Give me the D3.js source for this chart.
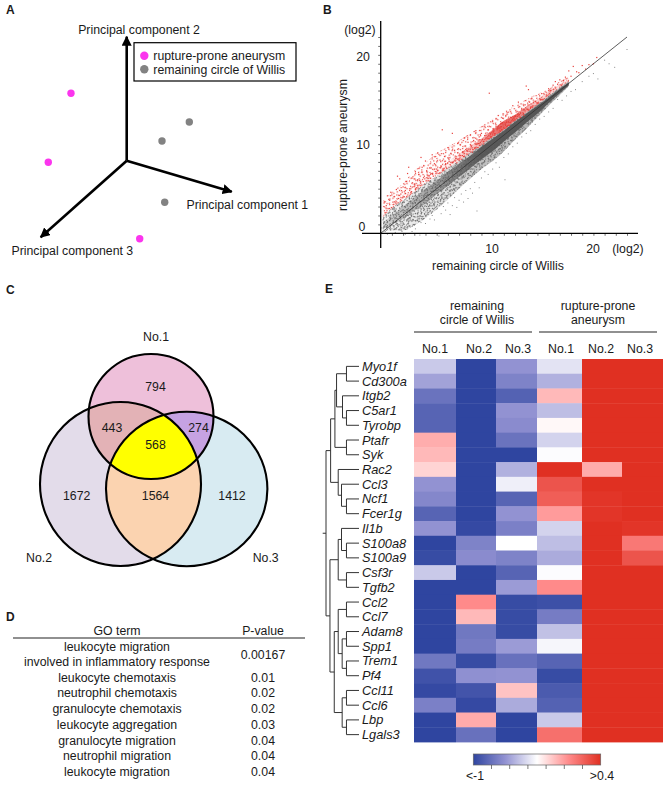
<!DOCTYPE html>
<html><head><meta charset="utf-8">
<script src="https://cdn.jsdelivr.net/npm/d3@7/dist/d3.min.js"></script>
<style>html,body{margin:0;padding:0;background:#fff}svg{display:block}text{font-family:"Liberation Sans",Arial,sans-serif;font-size:12.3px;fill:#1a1a1a}</style>
</head><body><svg id="c" width="668" height="792"></svg>
<script>
// ---------- Panel A
const pcaRupture = [[-55.7,67.4],[-78.4,-1.6],[13,-78]];
const pcaWillis = [[62.6,38.7],[35.3,19.7],[38,-41.6]];
const pcaAxes = [[0,124],[105,-31],[-86,-76.5]];
const pcaLabels = ["Principal component 2","Principal component 1","Principal component 3"];
const legendLabels = ["rupture-prone aneurysm","remaining circle of Willis"];
// ---------- Panel B
const bandX =    [0.2,1,2,3,4,5,6,7,8,9,10,11,12,13,14,15,16,16.8];
const redHi =    [3.6,4.6,5.6,7,7.9,9,9.7,10.4,11.2,12,12.8,13.6,14.3,15,15.6,16.2,17,17.6];
const redMid =   [2.6,3.4,4.3,5.4,6.3,7.1,8,8.9,9.8,10.6,11.6,12.6,13.3,14.2,15,15.9,16.7,17.3];
const grayHi =   [1.8,2.8,3.7,4.6,5.6,6.4,7.3,8.1,9,9.9,10.8,11.6,12.6,13.5,14.4,15.4,16.3,17];
const grayLo =   [0.2,0.3,0.3,0.9,1.7,2.7,3.8,5,6.1,7.2,8.1,9.2,10.5,11.7,13,14.3,15.5,16.5];
const coreHi =   [1.2,2,3,4,5,5.9,6.9,7.8,8.7,9.7,10.6,11.5,12.5,13.4,14.3,15.2,16.2,16.9];
const coreLo =   [0.6,1,1.6,2.5,3.3,4.4,5.3,6.3,7.3,8.3,9.2,10.3,11.3,12.4,13.4,14.6,15.7,16.6];
const redPoints = [[0.3,3.4],[0.5,3.1],[0.6,4.2],[0.8,3.7],[0.9,4.6],[1.1,3.5],[1.2,4.1],[1.4,4.9],[1.5,6.4],[1.6,3.9],[1.7,6.1],[1.8,4.4],[2,5.2],[2.1,4.1],[2.2,4.8],[2.3,5.8],[2.4,6.7],[2.5,7.4],[2.6,5],[2.7,4.6],[2.8,6.2],[3,5.5],[3.1,6.9],[3.2,5.1],[3.3,6],[3.4,6.6],[3.5,5.4],[3.6,8.5],[3.7,7.4],[3.8,5.8],[3.9,6.4],[4,8.1],[4.1,7],[4.2,6.2],[4.3,5.9],[4.4,7.3],[4.5,6.7],[4.6,8.8],[4.7,6.4],[4.8,7.8],[4.9,6.9],[5,7.2],[5.1,9],[5.2,6.7],[5.3,8.2],[5.4,7.5],[5.5,11.6],[5.6,7.1],[5.7,8.6],[5.8,7.8],[5.9,7.3],[6,9.6],[6.1,8.3],[6.2,7.7],[6.3,8.9],[6.4,11.2],[6.5,8],[6.6,9.3],[6.7,8.4],[6.8,7.9],[6.9,10.1],[7,8.7],[7.1,9.9],[7.2,8.3],[7.3,9.1],[7.4,8.6],[7.5,10.7],[7.6,9.4],[7.7,8.9],[7.8,10.2],[7.9,9.2],[8,11],[8.1,9.7],[8.2,9.1],[8.3,10.4],[8.4,9.5],[8.5,11.5],[8.6,10],[8.7,9.6],[8.8,10.8],[8.9,10.2],[9,11.2],[9.1,10.5],[9.2,10],[9.3,12],[9.4,11],[9.5,10.6],[9.6,11.6],[9.7,15.7],[9.8,11.1],[9.9,10.8],[10,12.6],[10.1,11.4],[10.2,11],[10.3,12],[10.4,11.6],[10.5,13.2],[10.6,11.8],[10.7,11.4],[10.8,12.3],[10.9,12.9],[11,11.9],[11.1,12.4],[11.2,11.8],[11.3,13.5],[11.4,12.5],[11.5,12.1],[11.6,13],[11.7,12.6],[11.8,14.3],[11.9,13],[12,12.7],[12.1,13.6],[12.2,13.1],[12.3,14.7],[12.4,13.3],[12.5,13],[12.6,14],[12.7,13.5],[12.8,13.2],[12.9,14.4],[13,16.5],[13.1,13.9],[13.2,16.1],[13.3,14.7],[13.4,14.1],[13.5,15.1],[13.6,14.3],[13.8,14.8],[14,14.6],[14.2,15.4],[14.4,15],[14.6,15.6],[14.8,15.5],[15,16.2],[15.2,16],[15.4,16.6],[15.6,17],[15.8,16.7],[16,17.2],[16.3,17.1],[16.5,17.5],[16.8,18.2],[17,17.6],[17.2,18.7],[17.5,18.1],[17.7,18],[18,18.8],[18.3,18.4],[18.6,18.9],[19,19],[19.3,19.7]];
const grayPoints = [[0.1,0.6],[0.2,1.5],[0.3,1.2],[0.4,0.2],[0.5,1.8],[0.6,-0.1],[0.8,2.5],[1,0.5],[1.2,2.7],[1.3,0.1],[1.5,1.1],[1.6,0.4],[1.7,3.3],[1.9,0.2],[2,1.2],[2.2,-0.1],[2.4,0.6],[2.6,1.4],[2.8,0.2],[3,0.9],[3.1,0.5],[3.3,1.6],[3.5,-0.2],[3.6,1.2],[3.8,1.9],[4,1.1],[4.2,2.3],[4.4,1.6],[4.6,2],[4.8,1.5],[5,2.7],[5.2,-0.3],[5.4,2.2],[5.6,3],[5.8,2.6],[6,3.4],[6.2,2.1],[6.4,3.1],[6.6,4],[6.8,2.9],[7,3.7],[7.2,4.4],[7.4,3.5],[7.6,4.8],[7.8,3.9],[8,5],[8.2,4.5],[8.4,5.7],[8.6,2.5],[8.8,5.1],[9,6.2],[9.3,6.9],[9.6,6.6],[10,7.2],[10.3,7.9],[10.6,7.4],[11,8.5],[11.4,8.9],[11.1,6],[11.8,9.7],[12.2,10.1],[12.6,10.8],[13,11.2],[13.4,11.5],[13.8,12.2],[14.2,12.8],[14.6,13.1],[15,13.6],[15.4,14],[15.8,15],[16.2,14.9],[16.6,15.4],[17,15.9],[17.4,16.1],[18,17],[18.6,17.6],[19,17.9],[19.4,17.3],[20,19.4],[20.4,19],[22,20.6],[20.9,18.6]];
const diagonal = [0,22];
const stippleTile = [[1,2],[5,0],[9,3],[14,1],[17,5],[3,7],[7,6],[12,8],[16,10],[0,11],[5,12],[10,13],[14,15],[2,15],[8,10],[18,14],[11,5],[6,15],[15,4],[3,11]];
// ---------- Panel C
const vennCounts = [794,443,274,568,1672,1564,1412];
const vennNames = ["No.1","No.2","No.3"];
// ---------- Panel D
const goTerms = ["leukocyte chemotaxis","neutrophil chemotaxis","granulocyte chemotaxis","leukocyte aggregation","granulocyte migration","neutrophil migration","leukocyte migration"];
const goP = ["0.01","0.02","0.02","0.03","0.04","0.04","0.04"];
// ---------- Panel E
const genes = ["Myo1f","Cd300a","Itgb2","C5ar1","Tyrobp","Ptafr","Syk","Rac2","Ccl3","Ncf1","Fcer1g","Il1b","S100a8","S100a9","Csf3r","Tgfb2","Ccl2","Ccl7","Adam8","Spp1","Trem1","Pf4","Ccl11","Ccl6","Lbp","Lgals3"];
const samples = ["No.1","No.2","No.3","No.1","No.2","No.3"];
const willis1 = [-.475,-.6,-.79,-.86,-.86,-.055,-.09,-.17,-.65,-.7,-.86,-.65,-1,-.97,-.475,-1,-1,-1,-1,-1,-.77,-.94,-.98,-.73,-1,-1];
const willis2 = [-1,-1,-1,-1,-1,-1,-1,-1,-1,-1,-1,-.98,-.72,-.68,-1,-1,.05,-.09,-.77,-.75,-.97,-.66,-.93,-.98,-.05,-.8];
const willis3 = [-.65,-.72,-.87,-.65,-.68,-.79,-1,-.55,-.35,-.86,-.65,-.73,-.3,-.72,-.86,-.62,-.97,-.97,-.97,-.62,-.8,-.65,-.12,-.57,-1,-1];
const rupture1 = [-.39,-.55,-.09,-.51,-.28,-.44,-.31,.4,.26,.22,0,-.44,-.51,-.57,-.31,.05,-.95,-.75,-.5,-.33,-.86,-.97,-.9,-.87,-.475,.15];
const rupture2 = [.4,.4,.4,.4,.4,.4,.4,-.05,.4,.38,.38,.4,.4,.4,.4,.4,.4,.4,.4,.4,.4,.4,.4,.4,.4,.4];
const rupture3 = [.4,.4,.4,.4,.4,.4,.4,.4,.4,.4,.4,.38,.12,.26,.4,.4,.4,.4,.4,.4,.4,.4,.4,.4,.4,.4];
const columnsE = [willis1,willis2,willis3,rupture1,rupture2,rupture3];
const L = i => ({leaf:i});
const dendro = {h:110,kids:[{h:100,kids:[
  {h:86,kids:[
    {h:73,kids:[{h:68,kids:[{h:38,kids:[L(0),L(1)]},{h:50,kids:[L(2),{h:38,kids:[L(3),L(4)]}]}]},{h:38,kids:[L(5),L(6)]}]},
    {h:63,kids:[L(7),{h:53,kids:[L(8),{h:38,kids:[L(9),L(10)]}]}]}]},
  {h:88,kids:[
    {h:63,kids:[{h:53,kids:[L(11),{h:38,kids:[L(12),L(13)]}]},{h:38,kids:[L(14),L(15)]}]},
    {h:75,kids:[
      {h:63,kids:[{h:38,kids:[L(16),L(17)]},{h:51,kids:[{h:38,kids:[L(18),L(19)]},{h:38,kids:[L(20),L(21)]}]}]},
      {h:51,kids:[{h:38,kids:[L(22),L(23)]},{h:38,kids:[L(24),L(25)]}]}]}]}]}]};

const svg = d3.select("#c");
const txt = (x,y,s,o={}) => { const t=svg.append("text").attr("x",x).attr("y",y).attr("dominant-baseline","central").attr("text-anchor",o.a||"middle").text(s);
  if(o.size)t.style("font-size",o.size+"px"); if(o.bold)t.style("font-weight","bold"); if(o.it)t.style("font-style","italic"); if(o.rot)t.attr("transform",`rotate(${o.rot} ${x} ${y})`); return t;};
[["A",6,10],["B",323,10],["C",6,290],["D",6,617],["E",325,289]].forEach(d=>txt(d[1],d[2],d[0],{a:"start",bold:true,size:12}));

const defs = svg.append("defs");
defs.append("marker").attr("id","ah").attr("viewBox","0 0 10 10").attr("refX",9).attr("refY",5).attr("markerUnits","userSpaceOnUse").attr("markerWidth",10).attr("markerHeight",10).attr("orient","auto")
  .append("path").attr("d","M0,0L10,5L0,10Z").attr("fill","#000");

// Panel A
const ax = d3.scaleLinear().domain([-100,100]).range([26.7,226.7]);
const ay = d3.scaleLinear().domain([-100,100]).range([260.7,60.7]);
pcaAxes.forEach(d=>svg.append("line").attr("x1",ax(0)).attr("y1",ay(0)).attr("x2",ax(d[0])).attr("y2",ay(d[1])).attr("stroke","#000").attr("stroke-width",2.6).attr("marker-end","url(#ah)"));
svg.selectAll(".pr").data(pcaRupture).join("circle").attr("cx",d=>ax(d[0])).attr("cy",d=>ay(d[1])).attr("r",3.7).attr("fill","#fb35ee");
svg.selectAll(".pw").data(pcaWillis).join("circle").attr("cx",d=>ax(d[0])).attr("cy",d=>ay(d[1])).attr("r",3.7).attr("fill","#828282");
txt(139,29.5,pcaLabels[0]); txt(186.5,204.5,pcaLabels[1],{a:"start"}); txt(11.5,251,pcaLabels[2],{a:"start"});
svg.append("rect").attr("x",134).attr("y",42.7).attr("width",162).attr("height",38.3).attr("fill","#fff").attr("stroke","#000").attr("stroke-width",1.2);
legendLabels.forEach((s,i)=>{svg.append("circle").attr("cx",144.3).attr("cy",55.7+i*13.6).attr("r",4.2).attr("fill",i?"#828282":"#fb35ee");txt(153.3,55.7+i*14,s,{a:"start"});});

// Panel B
const bx = d3.scaleLinear().domain([0,22]).range([380.7,627]);
const by = d3.scaleLinear().domain([0,22]).range([233.3,37]);
const pat = (id,color,rot,sz)=>{const p=defs.append("pattern").attr("id",id).attr("patternUnits","userSpaceOnUse").attr("width",19).attr("height",17).attr("patternTransform",`rotate(${rot})`);
  stippleTile.forEach(c=>p.append("rect").attr("x",c[0]).attr("y",c[1]).attr("width",sz).attr("height",sz).attr("fill",color));};
pat("r1","#e8413c",11,1.2);pat("r2","#e8413c",-37,1.2);pat("r3","#e8413c",63,1.2);pat("r4","#e8413c",128,1.2);
pat("g1","#6a6a6a",7,1.1);pat("g2","#6a6a6a",-29,1.1);pat("g3","#6a6a6a",52,1.1);pat("g4","#6a6a6a",101,1.1);pat("g5","#6a6a6a",-71,1.1);
const grad=(id,stops)=>{const g=defs.append("linearGradient").attr("id",id).attr("gradientUnits","userSpaceOnUse").attr("x1",bx(0)).attr("x2",bx(18)).attr("y1",0).attr("y2",0);
  stops.forEach(s=>g.append("stop").attr("offset",s[0]/18).attr("stop-color",s[1]).attr("stop-opacity",s[2]));};
grad("gOuter",[[0,"#888",.1],[5,"#888",.2],[9,"#777",.45],[14,"#777",.55],[18,"#777",.5]]);
grad("gCore",[[0,"#666",.2],[3,"#666",.4],[6,"#5c5c5c",.65],[9,"#555",.95],[18,"#555",1]]);
grad("rDense",[[5,"#e8413c",0],[8,"#e8413c",.2],[10.5,"#e03a36",.75],[12,"#e03a36",.7],[14,"#e8413c",.25],[18,"#e8413c",.1]]);
const band = (hi,lo,fill)=>svg.append("path").attr("d",d3.area().x((d,i)=>bx(bandX[i])).y0((d,i)=>by(lo[i])).y1(d=>by(d)).curve(d3.curveMonotoneX)(hi)).attr("fill",fill);
["r1","r2"].forEach(p=>band(redHi,grayHi,`url(#${p})`));
["r3","r4"].forEach(p=>band(redMid,grayHi,`url(#${p})`));
band(redMid,grayHi,"url(#rDense)");
["g1","g2","g3","g4","g5"].forEach(p=>band(grayHi,grayLo,`url(#${p})`));
band(grayHi,grayLo,"url(#gOuter)");
band(coreHi,coreLo,"url(#gCore)");
svg.selectAll(".rp").data(redPoints).join("rect").attr("x",d=>bx(d[0])-.6).attr("y",d=>by(d[1])-.6).attr("width",1.2).attr("height",1.2).attr("fill","#e8413c");
svg.selectAll(".gp").data(grayPoints).join("rect").attr("x",d=>bx(d[0])-.5).attr("y",d=>by(d[1])-.5).attr("width",1).attr("height",1).attr("fill","#8a8a8a");
svg.append("line").attr("x1",bx(diagonal[0])).attr("y1",by(diagonal[0])).attr("x2",bx(diagonal[1])).attr("y2",by(diagonal[1])).attr("stroke","#333").attr("stroke-width",.8);
const xAxis=d3.axisBottom(bx).tickValues(d3.range(1,23)).tickSize(2.5).tickFormat("");
const yAxis=d3.axisLeft(by).tickValues(d3.range(1,23)).tickSize(2.5).tickFormat("");
const gx=svg.append("g").attr("transform",`translate(0,${by(0)})`).call(xAxis); gx.select(".domain").remove();
const gy=svg.append("g").attr("transform",`translate(${bx(0)},0)`).call(yAxis); gy.select(".domain").remove();
svg.selectAll("g .tick line").attr("stroke","#333").attr("stroke-width",.7);
svg.append("line").attr("x1",362).attr("x2",638).attr("y1",by(0)).attr("y2",by(0)).attr("stroke","#000").attr("stroke-width",1.3);
svg.append("line").attr("x1",bx(0)).attr("x2",bx(0)).attr("y1",21).attr("y2",248).attr("stroke","#000").attr("stroke-width",1.3);
txt(360,30,"(log2)");txt(363,57,"20");txt(363,145,"10");txt(362,227,"0");
txt(492,249,"10");txt(593,249,"20");txt(628,249,"(log2)");txt(498,266,"remaining circle of Willis");
txt(343,145,"rupture-prone aneurysm",{rot:-90});

// Panel C
const circles=[[151,416.5,62.5,62.5],[120.5,484,80.5,82],[186.7,489,80.7,77.2]];
const ell=(sel,c)=>sel.append("ellipse").attr("cx",c[0]).attr("cy",c[1]).attr("rx",c[2]).attr("ry",c[3]);
circles.forEach((c,i)=>ell(defs.append("clipPath").attr("id","v"+i),c));
const fills=[[[0],"#eec0da"],[[1],"#e3dcea"],[[2],"#d8ebf2"],[[0,1],"#e3b2b6"],[[0,2],"#c6a2e2"],[[1,2],"#fbd3b0"],[[0,1,2],"#ffff00"]];
fills.forEach(f=>{let host=svg.append("g");const ids=f[0];
  ids.slice(1).forEach(i=>{host=host.append("g").attr("clip-path",`url(#v${i})`);});
  ell(host,circles[ids[0]]).attr("fill",f[1]);});
circles.forEach(c=>ell(svg,c).attr("fill","none").attr("stroke","#000").attr("stroke-width",2.1));
[[155.5,387],[112,428],[198.5,428],[155.5,445],[76.7,496],[155.5,496],[232,496]].forEach((p,i)=>txt(p[0],p[1],vennCounts[i]));
txt(156,337,vennNames[0]);txt(39,558,vennNames[1]);txt(265.7,558,vennNames[2]);

// Panel D
txt(117,631,"GO term");txt(263,631,"P-value");
svg.append("line").attr("x1",13).attr("x2",305).attr("y1",638).attr("y2",638).attr("stroke","#222").attr("stroke-width",1.2);
txt(117,647,"leukocyte migration");txt(117,662,"involved in inflammatory response");txt(263,655,"0.00167");
const ry=d3.scalePoint().domain(goTerms.map((d,i)=>i)).range([677.5,772]);
goTerms.forEach((s,i)=>{txt(117,ry(i),s);txt(263,ry(i),goP[i]);});

// Panel E
const colEdges=[414,456,496,537,582,622,663];
const rowY=d3.scaleBand().domain(genes).range([359,742]);
const color=d3.scaleLinear().domain([-1,-.65,-.3,.05,.4]).range(["#2f45a0","#9292d2","#ffffff","#ff8a8a","#e03022"]).clamp(true);
columnsE.forEach((col,c)=>svg.selectAll(".c"+c).data(col).join("rect").attr("x",colEdges[c]).attr("width",colEdges[c+1]-colEdges[c]).attr("y",(d,i)=>rowY(genes[i])).attr("height",rowY.bandwidth()+.4).attr("fill",d=>color(d)));
genes.forEach(g=>txt(362,rowY(g)+rowY.bandwidth()/2,g,{a:"start",it:true,size:12.8}));
[435,479,518,561,601,640].forEach((x,i)=>txt(x,349,samples[i]));
txt(477,306,"remaining");txt(477,320,"circle of Willis");txt(598,306,"rupture-prone");txt(598,320,"aneurysm");
[[414,532],[539,657]].forEach(d=>svg.append("line").attr("x1",d[0]).attr("x2",d[1]).attr("y1",332).attr("y2",332).attr("stroke","#222").attr("stroke-width",1.1));
const dx=d3.scaleLinear().domain([0,110]).range([359,322.7]);
const dgroup=svg.append("g").attr("stroke","#333").attr("stroke-width",1).attr("fill","none");
function draw(n){ if(n.leaf!==undefined) return {x:dx(0),y:rowY(genes[n.leaf])+rowY.bandwidth()/2};
  const k=n.kids.map(draw),x=dx(n.h),ys=k.map(p=>p.y);
  const p=d3.path();p.moveTo(x,d3.min(ys));p.lineTo(x,d3.max(ys));k.forEach(q=>{p.moveTo(x,q.y);p.lineTo(q.x,q.y);});
  dgroup.append("path").attr("d",p.toString());return {x,y:d3.mean(ys)};}
draw(dendro);
const cb=defs.append("linearGradient").attr("id","cb");
[[0,"#2f45a0"],[.25,"#9292d2"],[.5,"#ffffff"],[.75,"#ff8a8a"],[1,"#e03022"]].forEach(s=>cb.append("stop").attr("offset",s[0]).attr("stop-color",s[1]));
const cbx=d3.scaleLinear().domain([-1,.4]).range([473.3,600.7]);
svg.append("rect").attr("x",473.3).attr("y",754).attr("width",127.4).attr("height",11).attr("fill","url(#cb)").attr("stroke","#666").attr("stroke-width",.7);
d3.range(7).forEach(i=>{const x=cbx(-1+i*1.4/7);if(i)svg.append("line").attr("x1",x).attr("x2",x).attr("y1",765).attr("y2",769).attr("stroke","#444").attr("stroke-width",.7);});
txt(475,776,"<-1");txt(602,776,">0.4");
</script></body></html>
